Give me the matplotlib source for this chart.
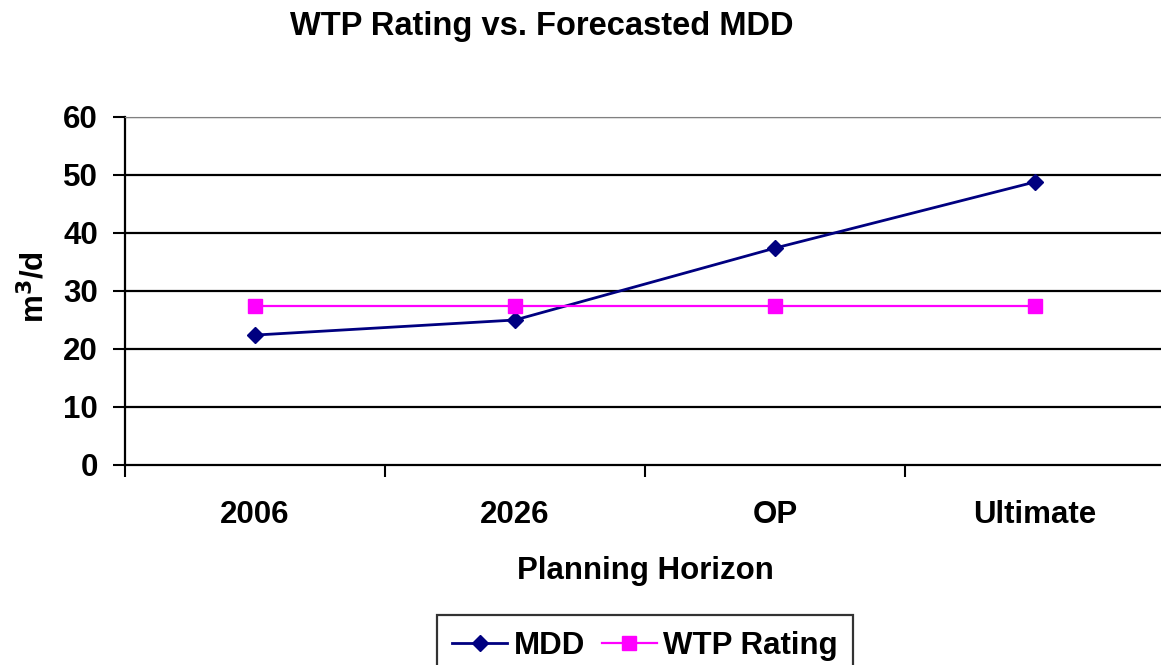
import matplotlib
matplotlib.use("Agg")
import matplotlib.pyplot as plt

# values
horizons = ["2006", "2026", "OP", "Ultimate"]
mdd = [22.4, 25.0, 37.4, 48.8]
wtp_rating = [27.4, 27.4, 27.4, 27.4]
y_ticks = [0, 10, 20, 30, 40, 50, 60]

plt.rcParams["font.family"] = ["Liberation Sans", "DejaVu Sans"]
plt.rcParams["font.weight"] = "bold"

W, H = 1161, 665
fig = plt.figure(figsize=(W / 100, H / 100), dpi=100)
# plot area in pixels: x 125..1165, y 117..465
ax = fig.add_axes([125 / W, 1 - 465 / H, 1040 / W, 348 / H])

xs = list(range(len(horizons)))
ax.plot(xs, mdd, color="#000080", lw=2.0, marker="D", ms=7.8,
        label="MDD", zorder=3)
ax.plot(xs, wtp_rating, color="#FF00FF", lw=1.6, marker="s", ms=10.5,
        label="WTP Rating", zorder=3)

ax.set_xlim(-0.5, len(horizons) - 0.5)
ax.set_ylim(0, 60)
ax.set_yticks(y_ticks)
ax.set_xticks(xs)
ax.set_xticklabels(horizons)
ax.set_xticks([x - 0.5 for x in range(len(horizons) + 1)], minor=True)
ax.tick_params(axis="x", which="major", length=0, pad=25, labelsize=22.5)
ax.tick_params(axis="x", which="minor", length=8.5, width=1.5, direction="out")
ax.tick_params(axis="y", length=8.5, width=1.5, direction="out", pad=11,
               labelsize=22.5)

for v in y_ticks[1:]:
    ax.axhline(v, color="black", lw=1.6, zorder=1)

for side in ("left", "bottom"):
    ax.spines[side].set_linewidth(1.6)
    ax.spines[side].set_color("black")
ax.spines["top"].set_color("#808080")
ax.spines["right"].set_visible(False)

ax.set_xlabel("Planning Horizon", fontsize=22.5, fontweight="bold", labelpad=19)
fig.text(35 / W, 1 - 287 / H, "m$^\\mathbf{3}$/d", rotation=90, fontsize=22.5,
         fontweight="bold", ha="center", va="center")

fig.text(542 / W, 1 - 27 / H, "WTP Rating vs. Forecasted MDD", fontsize=23.5,
         fontweight="bold", ha="center", va="center")

leg = fig.legend(loc="upper center", bbox_to_anchor=(645 / W, 1 - 615 / H),
                 ncol=2, fontsize=22.5, frameon=True, fancybox=False,
                 handlelength=1.75, handletextpad=0.2, columnspacing=0.55,
                 borderpad=0.5, borderaxespad=0)
leg.get_frame().set_edgecolor("black")
leg.get_frame().set_linewidth(1.6)

fig.savefig("out.png", dpi=100)
